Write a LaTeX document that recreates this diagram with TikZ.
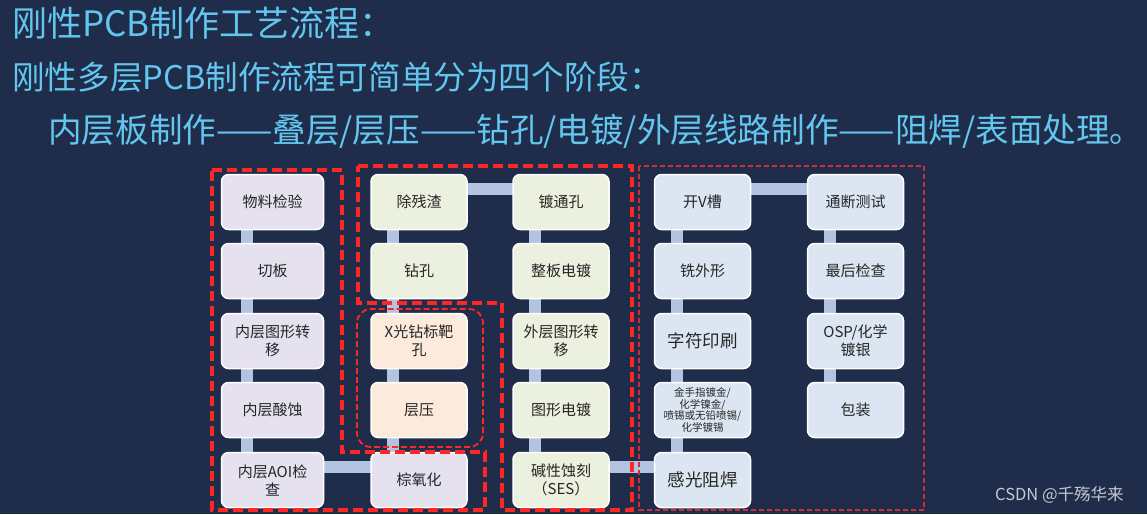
\documentclass[tikz,border=0pt]{standalone}
\usepackage{fontspec}
\setmainfont{Noto Sans CJK SC}
\usepackage{tikz}
\usetikzlibrary{positioning,backgrounds}

\definecolor{navy}{HTML}{1F2C4A}
\definecolor{titleblue}{HTML}{62C6EE}
\definecolor{lav}{HTML}{E5E1EF}
\definecolor{sage}{HTML}{EBF1DE}
\definecolor{peach}{HTML}{FCEBDC}
\definecolor{ice}{HTML}{DCE6F2}
\definecolor{linkblue}{HTML}{B3C4E0}
\definecolor{framered}{HTML}{FF2626}
\definecolor{framedark}{HTML}{D22B3C}
\definecolor{markgray}{HTML}{C5C9D1}

\tikzset{
  proc/.style={draw=white, line width=1.5pt, rounded corners=7pt,
    minimum width=96pt, minimum height=55pt, align=center, inner sep=2pt,
    font=\fontsize{15}{18}\selectfont, text=black!85},
  link/.style={linkblue, line width=12pt},
  stageframe/.style={framered, line width=3.5pt, dash pattern=on 10pt off 5pt},
  lamframe/.style={framered, line width=1.8pt, dash pattern=on 6pt off 3pt, rounded corners=14pt},
  finishframe/.style={framedark, line width=1.8pt, dash pattern=on 5pt off 3pt},
  headline/.style={anchor=west, text=titleblue, inner sep=0pt}
}

\begin{document}
\begin{tikzpicture}[x=1pt,y=-1pt]
\useasboundingbox (0,0) rectangle (1147,514);
%% headings
\node[headline, font=\fontsize{35}{35}\selectfont] (title) at (12,23) {刚性PCB制作工艺流程：};
\node[headline, font=\fontsize{32.6}{33}\selectfont] (intro) at (12,77) {刚性多层PCB制作流程可简单分为四个阶段：};
\node[headline, font=\fontsize{33.6}{34}\selectfont] (stages) at (48,131) {内层板制作——叠层/层压——钻孔/电镀/外层线路制作——阻焊/表面处理。};
%% inner layer
\node[proc, fill=lav, minimum width=102pt] (check) at (272.5,202) {物料检验};
\node[proc, fill=lav, minimum width=102pt] (cut) at (272.5,271) {切板};
\node[proc, fill=lav, minimum width=102pt] (innerimg) at (272.5,341) {内层图形转\\移};
\node[proc, fill=lav, minimum width=102pt] (inneretch) at (272.5,410) {内层酸蚀};
\node[proc, fill=lav, minimum width=102pt] (aoi) at (272.5,480) {内层AOI检\\查};
\node[proc, fill=lav] (oxide) at (419,480) {棕氧化};
%% lamination
\node[proc, fill=peach] (xray) at (419,341) {X光钻标靶\\孔};
\node[proc, fill=peach] (lam) at (419,410) {层压};
%% drilling / plating / outer layer
\node[proc, fill=sage] (drill) at (419,271) {钻孔};
\node[proc, fill=sage] (desmear) at (419,202) {除残渣};
\node[proc, fill=sage] (pth) at (561,202) {镀通孔};
\node[proc, fill=sage] (panel) at (561,271) {整板电镀};
\node[proc, fill=sage] (outerimg) at (561,341) {外层图形转\\移};
\node[proc, fill=sage] (pattern) at (561,410) {图形电镀};
\node[proc, fill=sage] (etch) at (561,480) {碱性蚀刻\\（SES）};
%% solder mask / surface finish
\node[proc, fill=ice] (mask) at (702.5,480) {\fontsize{17.5}{20}\selectfont 感光阻焊};
\node[proc, fill=ice, font=\fontsize{10.5}{11.8}\selectfont] (finish) at (702.5,410) {金手指镀金/\\化学镍金/\\喷锡或无铅喷锡/\\化学镀锡};
\node[proc, fill=ice] (legend) at (702.5,341) {\fontsize{17.5}{20}\selectfont 字符印刷};
\node[proc, fill=ice] (rout) at (702.5,271) {铣外形};
\node[proc, fill=ice] (vcut) at (702.5,202) {开V槽};
\node[proc, fill=ice] (etest) at (855.5,202) {通断测试};
\node[proc, fill=ice] (fqc) at (855.5,271) {最后检查};
\node[proc, fill=ice] (osp) at (855.5,341) {OSP/化学\\镀银};
\node[proc, fill=ice] (pack) at (855.5,410) {包装};
%% watermark
\node[anchor=west, inner sep=0pt, text=markgray, font=\fontsize{16.5}{16.5}\selectfont] (mark) at (995,495) {CSDN @千殇华来};
%% backdrop and connecting bars
\begin{scope}[on background layer]
\fill[navy] (0,0) rectangle (1147,514);
\foreach \a/\b in {check/cut, cut/innerimg, innerimg/inneretch, inneretch/aoi, aoi/oxide,
    oxide/lam, lam/xray, xray/drill, drill/desmear, desmear/pth, pth/panel, panel/outerimg,
    outerimg/pattern, pattern/etch, etch/mask, mask/finish, finish/legend, legend/rout,
    rout/vcut, vcut/etest, etest/fqc, fqc/osp, osp/pack}
  \draw[link] ([shift={(-26,-13)}]\a.center) -- ([shift={(-26,-13)}]\b.center);
\end{scope}
%% stage frames
\draw[stageframe] (212,170) -- (342,170) -- (342,452) -- (485,452) -- (485,510) -- (212,510) -- cycle;
\draw[lamframe] (357,309) rectangle (483,447);
\draw[stageframe] (358,166) -- (632,166) -- (632,510) -- (502,510) -- (502,303) -- (358,303) -- cycle;
\draw[finishframe] (639,166) rectangle (924,510);
\end{tikzpicture}
\end{document}
